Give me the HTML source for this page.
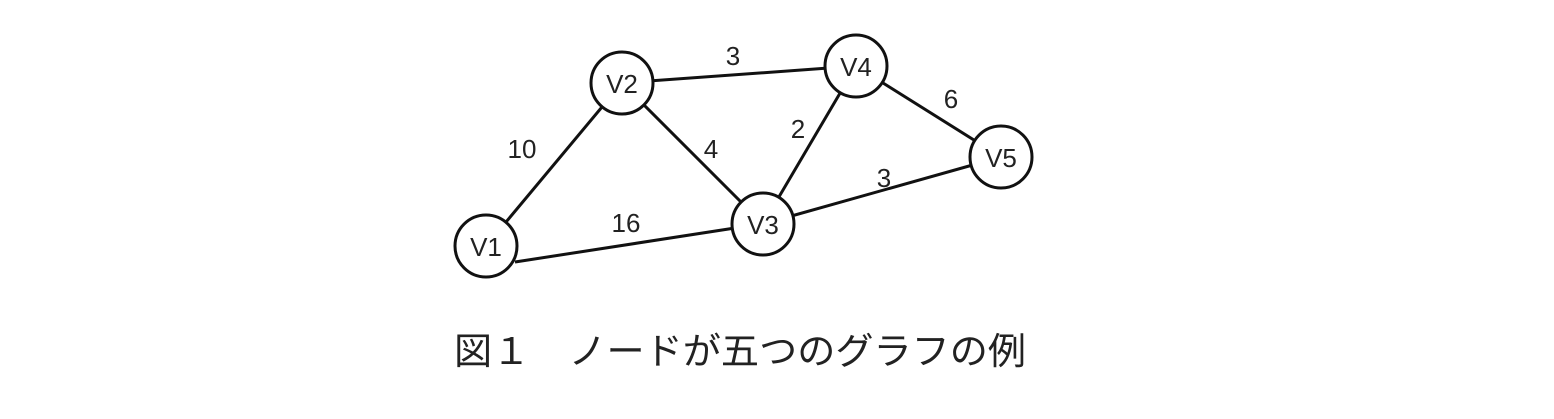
<!DOCTYPE html>
<html><head><meta charset="utf-8"><style>
html,body{margin:0;padding:0;background:#fff;}
</style></head><body>
<svg width="1554" height="414" viewBox="0 0 1554 414" xmlns="http://www.w3.org/2000/svg">
<g stroke="#111" stroke-width="3" fill="none">
<line x1="486" y1="246" x2="622" y2="83"/>
<line x1="515" y1="262" x2="735" y2="228"/>
<line x1="622" y1="83" x2="856" y2="66"/>
<line x1="622" y1="83" x2="763" y2="224"/>
<line x1="763" y1="224" x2="856" y2="66"/>
<line x1="763" y1="224" x2="1001" y2="157"/>
<line x1="856" y1="66" x2="1001" y2="157"/>
</g>
<g stroke="#111" stroke-width="3" fill="#fff">
<circle cx="486" cy="246" r="31"/>
<circle cx="622" cy="83" r="31"/>
<circle cx="763" cy="224" r="31"/>
<circle cx="856" cy="66" r="31"/>
<circle cx="1001" cy="157" r="31"/>
</g>
<g font-family="Liberation Sans, sans-serif" font-size="26" fill="#222" text-anchor="middle" dominant-baseline="central">
<text x="486" y="247">V1</text>
<text x="622" y="84">V2</text>
<text x="763" y="225">V3</text>
<text x="856" y="67">V4</text>
<text x="1001" y="158">V5</text>
<text x="733" y="56">3</text>
<text x="522" y="149">10</text>
<text x="711" y="149">4</text>
<text x="798" y="129">2</text>
<text x="951" y="99">6</text>
<text x="884" y="178">3</text>
<text x="626" y="223">16</text>
</g>
<text x="454" y="364" font-family="Liberation Sans, 'Noto Sans CJK JP', sans-serif" font-size="37" fill="#222" textLength="572" lengthAdjust="spacingAndGlyphs">図１　ノードが五つのグラフの例</text>
</svg>
</body></html>
